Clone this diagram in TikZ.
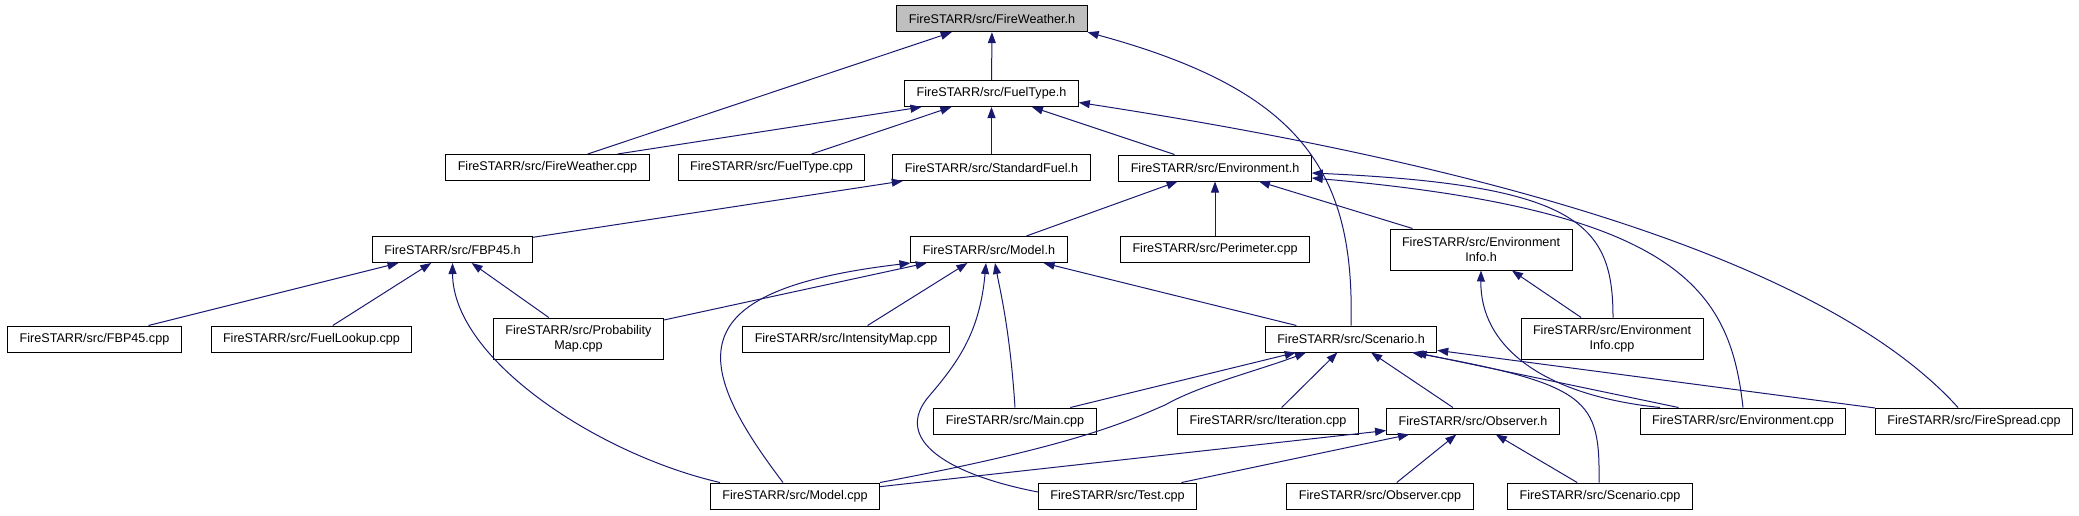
\documentclass[tikz,border=0pt]{standalone}
\usepackage{fontspec}
\setmainfont{Liberation Sans}
\usetikzlibrary{arrows.meta}
\definecolor{edgeblue}{HTML}{191970}
\definecolor{curgray}{HTML}{BFBFBF}

\begin{document}
\begin{tikzpicture}[x=1pt, y=-1pt,
		file/.style={rectangle, draw=black, line width=1pt, fill=white, minimum height=26pt,
				inner xsep=12pt, inner ysep=2pt, align=center, font=\fontsize{12.6}{15}\selectfont},
		cur/.style={file, fill=curgray},
		twoline/.style={minimum height=41pt},
		dep/.style={draw=edgeblue, line width=1pt, -{Triangle[length=11pt, width=8pt]}},
	]
	\useasboundingbox (0, 0) rectangle (2079, 515);

	\node (fwh)        [cur]           at (992, 18.7)    {FireSTARR/src/FireWeather.h};
	\node (fth)        [file]          at (991.5, 93.5)  {FireSTARR/src/FuelType.h};
	\node (fwcpp)      [file]          at (547.5, 167.5) {FireSTARR/src/FireWeather.cpp};
	\node (ftcpp)      [file]          at (771.5, 167.5) {FireSTARR/src/FuelType.cpp};
	\node (sfh)        [file]          at (991.5, 167.5) {FireSTARR/src/StandardFuel.h};
	\node (envh)       [file]          at (1215, 168)    {FireSTARR/src/Environment.h};
	\node (fbph)       [file]          at (452.5, 249.5) {FireSTARR/src/FBP45.h};
	\node (modelh)     [file]          at (989, 249.5)   {FireSTARR/src/Model.h};
	\node (perimcpp)   [file]          at (1215, 249.5)  {FireSTARR/src/Perimeter.cpp};
	\node (envinfoh)   [file, twoline] at (1481, 249.5)  {FireSTARR/src/Environment\\Info.h};
	\node (fbpcpp)     [file]          at (94.5, 339)    {FireSTARR/src/FBP45.cpp};
	\node (lookupcpp)  [file]          at (311.5, 339)   {FireSTARR/src/FuelLookup.cpp};
	\node (probcpp)    [file, twoline] at (578.5, 338.5) {FireSTARR/src/Probability\\Map.cpp};
	\node (intencpp)   [file]          at (846, 339)     {FireSTARR/src/IntensityMap.cpp};
	\node (scenh)      [file]          at (1351, 339)    {FireSTARR/src/Scenario.h};
	\node (envinfocpp) [file, twoline] at (1612, 338.5)  {FireSTARR/src/Environment\\Info.cpp};
	\node (maincpp)    [file]          at (1015, 421)    {FireSTARR/src/Main.cpp};
	\node (itercpp)    [file]          at (1268, 421)    {FireSTARR/src/Iteration.cpp};
	\node (obsh)       [file]          at (1473, 421)    {FireSTARR/src/Observer.h};
	\node (envcpp)     [file]          at (1743, 421)    {FireSTARR/src/Environment.cpp};
	\node (spreadcpp)  [file]          at (1974, 421)    {FireSTARR/src/FireSpread.cpp};
	\node (modelcpp)   [file]          at (795, 496)     {FireSTARR/src/Model.cpp};
	\node (testcpp)    [file]          at (1117.5, 496)  {FireSTARR/src/Test.cpp};
	\node (obscpp)     [file]          at (1380, 496)    {FireSTARR/src/Observer.cpp};
	\node (scencpp)    [file]          at (1600, 496)    {FireSTARR/src/Scenario.cpp};

	% FireWeather.h
	\draw [dep] (fwcpp) -- (fwh);
	\draw [dep] (fth) -- (fwh);
	\draw [dep] (scenh.north) .. controls (1355, 170) and (1300, 90) .. (fwh.south east);
	% FuelType.h
	\draw [dep] ([xshift=70pt]fwcpp.north) -- ([xshift=-70pt]fth.south);
	\draw [dep] (ftcpp) -- (fth);
	\draw [dep] (sfh) -- (fth);
	\draw [dep] (envh) -- (fth);
	\draw [dep] ([xshift=-16pt]spreadcpp.north) .. controls (1870, 310) and (1650, 190) .. ([yshift=-9pt]fth.east);
	% StandardFuel.h
	\draw [dep] (fbph) -- (sfh);
	% Environment.h
	\draw [dep] (modelh) -- (envh);
	\draw [dep] (perimcpp) -- (envh);
	\draw [dep] (envinfoh) -- (envh);
	\draw [dep] ([xshift=1pt]envinfocpp.north) .. controls (1613, 225) and (1580, 185) .. ([yshift=-5pt]envh.east);
	\draw [dep] (envcpp.north) .. controls (1730, 290) and (1680, 210) .. ([yshift=-10pt]envh.east);
	% FBP45.h
	\draw [dep] (fbpcpp) -- (fbph);
	\draw [dep] (lookupcpp) -- (fbph);
	\draw [dep] (probcpp) -- (fbph);
	\draw [dep] ([xshift=-75pt]modelcpp.north) .. controls (600, 455) and (453, 360) .. (fbph.south);
	% Model.h
	\draw [dep] (probcpp) -- (modelh);
	\draw [dep] (intencpp) -- (modelh);
	\draw [dep] (scenh) -- (modelh);
	\draw [dep] ([xshift=-12pt]modelcpp.north) .. controls (690, 360) and (680, 290) .. (modelh.south west);
	\draw [dep] (maincpp.north) .. controls (1010, 330) and (1000, 290) .. ([xshift=6pt]modelh.south);
	\draw [dep] ([yshift=4pt]testcpp.west) .. controls (950, 475) and (890, 440) .. (930, 395)
		.. controls (960, 360) and (980, 330) .. ([xshift=-3pt]modelh.south);
	% Environment Info.h
	\draw [dep] (envinfocpp) -- (envinfoh);
	\draw [dep] ([xshift=-83pt]envcpp.north) .. controls (1540, 395) and (1480, 345) .. (envinfoh.south);
	% Scenario.h
	\draw [dep] (maincpp) -- (scenh);
	\draw [dep] (itercpp) -- (scenh);
	\draw [dep] (obsh) -- (scenh);
	\draw [dep] (envcpp) -- (scenh);
	\draw [dep] (spreadcpp) -- (scenh);
	\draw [dep] ([xshift=85pt]modelcpp.north) .. controls (1080, 445) and (1130, 420) .. (1165, 405)
		.. controls (1200, 385) and (1260, 370) .. ([xshift=-45pt]scenh.south);
	\draw [dep] ([xshift=-1pt]scencpp.north) .. controls (1600, 400) and (1590, 385) .. ([xshift=61pt]scenh.south);
	% Observer.h
	\draw [dep] (modelcpp) -- (obsh);
	\draw [dep] (testcpp) -- (obsh);
	\draw [dep] (obscpp) -- (obsh);
	\draw [dep] (scencpp) -- (obsh);
\end{tikzpicture}
\end{document}
